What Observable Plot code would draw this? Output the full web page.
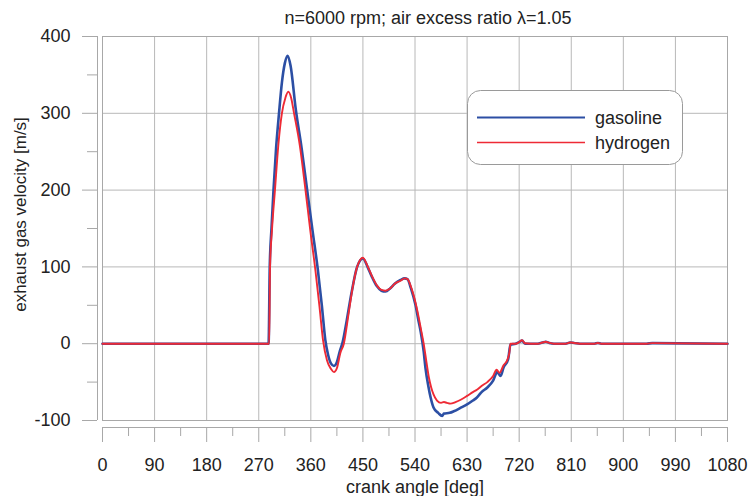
<!DOCTYPE html>
<html><head><meta charset="utf-8">
<script src="https://cdn.jsdelivr.net/npm/d3@7"></script>
<script src="https://cdn.jsdelivr.net/npm/@observablehq/plot@0.6"></script>
<style>
body{margin:0;background:#fff;}
#chart{position:relative;width:750px;height:496px;}
</style></head><body><div id="chart"></div>
<script>
const title = "n=6000 rpm; air excess ratio λ=1.05";
const xLabel = "crank angle [deg]";
const yLabel = "exhaust gas velocity [m/s]";
const xTicks = [0, 90, 180, 270, 360, 450, 540, 630, 720, 810, 900, 990, 1080];
const xMinorTicks = [45, 135, 225, 315, 405, 495, 585, 675, 765, 855, 945, 1035];
const yTicks = [-100, 0, 100, 200, 300, 400];
const yMinorTicks = [-50, 50, 150, 250, 350];
const seriesNames = ["gasoline", "hydrogen"];

const gasolineAngle = [0, 90, 180, 287, 289, 292, 295.5, 300, 305, 310, 315, 320, 325, 334, 344, 354, 363, 372, 379, 385, 390, 395, 400, 405, 410, 415, 422, 430, 440, 450, 458, 465, 474, 482, 489, 497, 505, 515, 522, 527, 533, 541, 546, 550, 555, 558, 563, 567, 572, 580, 587, 590, 600, 607, 620, 630, 640, 647, 655, 665, 675, 682, 688, 693, 701, 705, 714, 720, 725, 730, 740, 752, 760, 766, 772, 780, 800, 808, 815, 825, 850, 856, 862, 900, 940, 950, 1080];
const gasolineVelocity = [0, 0, 0, 0, 100, 150, 200, 255, 300, 340, 365, 375, 362, 305, 255, 198, 147, 97, 50, 5, -15, -26, -29, -24, -10, 2, 30, 65, 100, 111, 100, 88, 75, 69, 68, 72, 78, 83, 85, 84, 72, 50, 30, 15, -10, -31, -55, -70, -83, -90, -94, -91, -90, -88, -83, -79, -74, -70, -63, -57, -48, -37, -42, -31, -20, -1, 0, 2, 4, 0, 0, 0, 1.5, 2.5, 1, 0, 0, 1.5, 1, 0, 0, 1, 0, 0, 0, 0.8, 0];

const hydrogenAngle = [0, 90, 180, 288, 289.5, 293, 298, 304, 310, 316, 321, 326, 331, 341, 350, 359, 368, 375, 381, 388, 395, 400, 405, 411, 417, 425, 432, 440, 450, 458, 465, 474, 482, 489, 497, 505, 515, 522, 527, 534, 544, 550, 555, 560, 564, 568, 572, 578, 585, 590, 595, 601, 610, 619, 630, 640, 647, 655, 665, 675, 681, 686, 693, 699, 703, 705, 714, 720, 725, 730, 740, 752, 760, 766, 772, 780, 800, 808, 815, 825, 850, 856, 862, 900, 940, 950, 1080];
const hydrogenVelocity = [0, 0, 0, 0, 100, 150, 200, 260, 300, 320, 328, 320, 300, 258, 205, 148, 95, 48, 5, -22, -33, -37, -32, -12, 0, 38, 72, 100, 112, 101, 89, 76, 70, 69, 72, 78, 82, 85, 84, 72, 43, 20, 0, -25, -44, -57, -66, -74, -77, -76, -77, -78, -76, -73, -68, -63, -60, -55, -50, -42, -34, -38, -28, -22, -12, 0, 0, 2, 4.5, 0.5, 0, 0, 1.5, 2.5, 1, 0, 0, 1.5, 1, 0, 0, 1, 0, 0, 0, 0.8, 0];

const seriesColors = ["#2c4fa4", "#ee2a35"];
const seriesWidths = [2.6, 1.9];

const gasRows = gasolineAngle.map((a, i) => ({angle: a, v: gasolineVelocity[i]}));
const hydRows = hydrogenAngle.map((a, i) => ({angle: a, v: hydrogenVelocity[i]}));

const gridColor = "#b8b8b8";
const axisColor = "#a8a8a8";
const textColor = "#222";
const fontFamily = "'Liberation Sans', Arial, sans-serif";

const plot = Plot.plot({
  width: 750, height: 496,
  marginLeft: 102, marginRight: 23, marginTop: 36, marginBottom: 76,
  x: {domain: [0, 1080]},
  y: {domain: [-100, 400]},
  style: {fontFamily, fontSize: "18px", color: textColor, background: "#fff"},
  marks: [
    Plot.gridX(xTicks, {stroke: gridColor, strokeOpacity: 1}),
    Plot.gridY(yTicks, {stroke: gridColor, strokeOpacity: 1}),
    Plot.frame({stroke: axisColor}),
    // y axis: separate line, major/minor ticks, labels
    Plot.ruleX([0], {y1: -100, y2: 400, dx: -5, stroke: axisColor}),
    Plot.axisY(yTicks, {tickSize: 15, dx: -5, tickFormat: () => "", stroke: axisColor, label: null}),
    Plot.axisY(yMinorTicks, {tickSize: 10, dx: -5, tickFormat: () => "", stroke: axisColor, label: null}),
    Plot.text(yTicks, {y: d => d, text: d => String(d), frameAnchor: "left", textAnchor: "end", lineAnchor: "middle", dx: -32, fontSize: 18, fill: textColor}),
    // x axis: separate line, major/minor ticks, labels
    Plot.ruleY([-100], {x1: 0, x2: 1080, dy: 7, stroke: axisColor}),
    Plot.axisX(xTicks, {tickSize: 15, dy: 7, tickFormat: () => "", stroke: axisColor, label: null}),
    Plot.axisX(xMinorTicks, {tickSize: 9, dy: 7, tickFormat: () => "", stroke: axisColor, label: null}),
    Plot.text(xTicks, {x: d => d, text: d => String(d), frameAnchor: "bottom", textAnchor: "middle", lineAnchor: "middle", dy: 45, fontSize: 18, fill: textColor}),
    // series
    Plot.line(gasRows, {x: "angle", y: "v", stroke: seriesColors[0], strokeWidth: seriesWidths[0], curve: "monotone-x"}),
    Plot.line(hydRows, {x: "angle", y: "v", stroke: seriesColors[1], strokeWidth: seriesWidths[1], curve: "monotone-x"}),
    // titles
    Plot.text([title], {frameAnchor: "top", lineAnchor: "middle", dy: -18, dx: 13, fontSize: 18, fill: textColor}),
    Plot.text([xLabel], {frameAnchor: "bottom", lineAnchor: "middle", textAnchor: "middle", dy: 67, fontSize: 18, fill: textColor}),
    Plot.text([yLabel], {frameAnchor: "left", lineAnchor: "middle", textAnchor: "middle", dx: -82, dy: -14, rotate: -90, fontSize: 17, fill: textColor})
  ]
});
document.getElementById("chart").append(plot);

// legend box inside the plot area
const svg = d3.select(plot);
const lg = svg.append("g").attr("font-family", fontFamily).attr("font-size", 18).attr("text-anchor", "start");
lg.append("rect").attr("x", 467.5).attr("y", 90.5).attr("width", 215).attr("height", 74).attr("rx", 13)
  .attr("fill", "#fff").attr("stroke", "#9a9a9a");
seriesNames.forEach((name, i) => {
  const y = 117.5 + i * 25;
  lg.append("line").attr("x1", 477).attr("x2", 585).attr("y1", y).attr("y2", y)
    .attr("stroke", seriesColors[i]).attr("stroke-width", seriesWidths[i] - 0.4);
  lg.append("text").attr("x", 595).attr("y", y).attr("dy", "0.35em").attr("fill", textColor).text(name);
});
</script>
</body></html>
